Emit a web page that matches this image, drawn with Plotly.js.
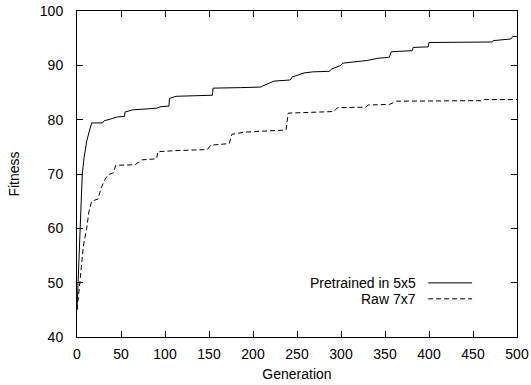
<!DOCTYPE html>
<html>
<head>
<meta charset="utf-8">
<script src="https://cdn.plot.ly/plotly-3.0.1.min.js"></script>
<style>html,body{margin:0;padding:0;background:#fff;}#chart{width:531px;height:385px;}</style>
</head>
<body>
<div id="chart"></div>
<script>
// Series 1: Pretrained in 5x5
var pretrainedX = [0, 1.5, 3.4, 6, 8, 11, 14, 16, 16.7, 29, 31, 40, 46, 54, 54.5, 63, 90, 95.5, 104.5, 105, 112.5, 154, 154.5, 186, 209, 211, 224, 242, 245, 251, 258, 268, 287, 289, 300, 302, 328, 330, 342, 355, 357, 381, 382, 399, 400, 472, 473, 493, 495, 500];
var pretrainedY = [45, 52, 60, 70, 73, 76, 77.9, 79, 79.4, 79.4, 79.8, 80.2, 80.5, 80.6, 81.4, 81.8, 82.1, 82.4, 82.5, 83.9, 84.3, 84.5, 85.8, 85.9, 86.0, 86.2, 87.1, 87.3, 87.9, 88.2, 88.6, 88.8, 88.9, 89.3, 90.0, 90.4, 90.8, 90.9, 91.3, 91.5, 92.5, 92.7, 93.3, 93.4, 94.2, 94.3, 94.55, 94.85, 95.3, 95.3];

// Series 2: Raw 7x7
var rawX = [0, 1, 3.4, 7.2, 11, 13.6, 16.7, 24, 27.3, 31.8, 35.6, 41.3, 44, 66, 73.5, 90.5, 91.7, 111, 148, 152, 173, 176, 190, 237.5, 240, 292, 296, 328, 331, 355, 363, 459, 463, 500];
var rawY = [45, 47, 50.2, 56.7, 60, 63.1, 65, 65.4, 67.4, 69, 69.9, 70.2, 71.6, 71.7, 72.6, 72.8, 74.1, 74.3, 74.5, 75.3, 75.6, 77.3, 77.7, 78.1, 81.2, 81.5, 82.2, 82.3, 82.7, 82.8, 83.4, 83.5, 83.7, 83.7];

var seriesNames = ["Pretrained in 5x5", "Raw 7x7"];
var xTitle = "Generation";
var yTitle = "Fitness";

var font = {family: "Liberation Sans, Arial, Helvetica, sans-serif", size: 14, color: "#000"};

var traces = [
  {x: pretrainedX, y: pretrainedY, mode: "lines", name: seriesNames[0],
   line: {color: "#000", width: 1}, showlegend: false},
  {x: rawX, y: rawY, mode: "lines", name: seriesNames[1],
   line: {color: "#000", width: 1, dash: "5px,3px"}, showlegend: false}
];

var layout = {
  width: 531, height: 385,
  margin: {l: 77, r: 14, t: 11, b: 48, pad: 0},
  paper_bgcolor: "#fff", plot_bgcolor: "#fff",
  font: font,
  xaxis: {
    range: [0, 500], dtick: 50, tick0: 0,
    showgrid: false, zeroline: false,
    showline: true, linecolor: "#000", linewidth: 1, mirror: "ticks",
    ticks: "inside", ticklen: 6, tickcolor: "#000", tickwidth: 1,
    ticklabelstandoff: 4,
    title: {text: xTitle, font: font, standoff: 8}
  },
  yaxis: {
    range: [40, 100], dtick: 10, tick0: 40,
    showgrid: false, zeroline: false,
    showline: true, linecolor: "#000", linewidth: 1, mirror: "ticks",
    ticks: "inside", ticklen: 6, tickcolor: "#000", tickwidth: 1,
    ticklabelstandoff: 10,
    title: {text: yTitle, font: font, standoff: 16}
  },
  annotations: [
    {xref: "paper", yref: "paper", x: 0.775, y: 0.166, text: seriesNames[0],
     showarrow: false, xanchor: "right", yanchor: "middle", font: font},
    {xref: "paper", yref: "paper", x: 0.775, y: 0.117, text: seriesNames[1],
     showarrow: false, xanchor: "right", yanchor: "middle", font: font}
  ],
  shapes: [
    {type: "line", xref: "paper", yref: "paper", x0: 0.798, x1: 0.898, y0: 0.166, y1: 0.166,
     line: {color: "#000", width: 1}},
    {type: "line", xref: "paper", yref: "paper", x0: 0.798, x1: 0.898, y0: 0.117, y1: 0.117,
     line: {color: "#000", width: 1, dash: "5px,3px"}}
  ]
};

Plotly.newPlot("chart", traces, layout, {displayModeBar: false, staticPlot: true});
</script>
</body>
</html>
